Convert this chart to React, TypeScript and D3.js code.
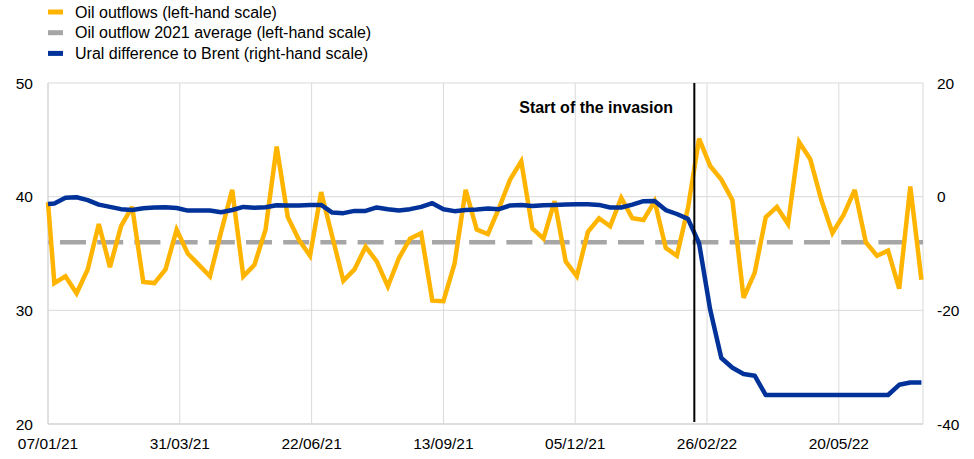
import * as d3 from "d3";

// weekly observations: one point on 07/01/21, then every Monday from 11/01/21
const FIRST_DATE = "07/01/21";
const WEEKLY_START = "11/01/21";
const WEEKS = 79;

const oilOutflows = [
  39.5,
  32.4, 33.0, 31.5, 33.6, 37.6, 33.8, 37.4, 39.1, 32.5, 32.4,
  33.6, 37.1, 35.0, 34.0, 33.0, 36.9, 40.6, 33.0, 34.0, 37.1,
  44.4, 38.2, 36.2, 34.8, 40.4, 36.5, 32.6, 33.6, 35.6, 34.3,
  32.1, 34.6, 36.3, 36.8, 30.85, 30.8, 34.1, 40.6, 37.1, 36.7,
  39.0, 41.5, 43.1, 37.2, 36.3, 39.6, 34.3, 33.0, 36.9, 38.1,
  37.4, 39.9, 38.1, 37.95, 39.6, 35.5, 34.8, 39.0, 45.1, 42.7,
  41.5, 39.7, 31.1, 33.3, 38.2, 39.1, 37.6, 44.8, 43.3, 39.7,
  36.8, 38.4, 40.6, 36.0, 34.8, 35.25, 31.9, 40.9, 32.7,
];

const uralsDiff = [
  -1.3,
  -1.2, -0.2, -0.1, -0.6, -1.4, -1.8, -2.2, -2.35, -2.05, -1.9,
  -1.85, -2.0, -2.45, -2.45, -2.45, -2.75, -2.35, -1.8, -1.95, -1.85,
  -1.5, -1.55, -1.55, -1.45, -1.45, -2.8, -2.9, -2.5, -2.5, -1.9,
  -2.2, -2.45, -2.2, -1.8, -1.15, -2.2, -2.55, -2.35, -2.25, -2.1,
  -2.2, -1.55, -1.45, -1.65, -1.5, -1.45, -1.4, -1.35, -1.35, -1.45,
  -1.9, -1.9, -1.4, -0.8, -0.75, -2.35, -3.05, -3.9, -8.2, -19.9,
  -28.4, -30.1, -31.2, -31.5, -34.9, -34.9, -34.9, -34.9, -34.9, -34.9,
  -34.9, -34.9, -34.9, -34.9, -34.9, -34.9, -33.1, -32.7, -32.7,
];

const OUTFLOW_AVG_2021 = 36.0;
const INVASION_DATE = "18/02/22";

const xTickLabels = ["07/01/21", "31/03/21", "22/06/21", "13/09/21", "05/12/21", "26/02/22", "20/05/22"];
const leftTicks = [20, 30, 40, 50];
const rightTicks = [-40, -20, 0, 20];
const X_END = "12/07/22";

const legendItems = [
  { label: "Oil outflows (left-hand scale)", color: "#FFB400" },
  { label: "Oil outflow 2021 average (left-hand scale)", color: "#A6A6A6" },
  { label: "Ural difference to Brent (right-hand scale)", color: "#003299" },
];

const W = 974;
const H = 459;
const PLOT = { left: 48, right: 923, top: 83, bottom: 424 };
const FONT = "Arial, 'Liberation Sans', sans-serif";

const parse = d3.utcParse("%d/%m/%y");

export default function App() {
  const dates: Date[] = [
    parse(FIRST_DATE)!,
    ...d3.range(WEEKS).map((i) => d3.utcWeek.offset(parse(WEEKLY_START)!, i)),
  ];

  const x = d3
    .scaleUtc()
    .domain([parse(FIRST_DATE)!, parse(X_END)!])
    .range([PLOT.left, PLOT.right]);
  const yL = d3.scaleLinear().domain([20, 50]).range([PLOT.bottom, PLOT.top]);
  const yR = d3.scaleLinear().domain([-40, 20]).range([PLOT.bottom, PLOT.top]);

  const outflowLine = d3
    .line<number>()
    .x((_, i) => x(dates[i]))
    .y((d) => yL(d));
  const uralsLine = d3
    .line<number>()
    .x((_, i) => x(dates[i]))
    .y((d) => yR(d));

  const xTicks = xTickLabels.map((s) => ({ label: s, date: parse(s)! }));
  const invX = x(parse(INVASION_DATE)!);
  const grid = "#D9D9D9";

  return (
    <svg
      width={W}
      height={H}
      style={{ position: "absolute", left: 0, top: 0, fontFamily: FONT }}
    >
      <rect width={W} height={H} fill="#fff" />

      {/* legend */}
      {legendItems.map((item, i) => (
        <g key={item.label} transform={`translate(48,${17.5 + i * 20.7})`}>
          <rect x={0} y={-8} width={15} height={5} fill={item.color} />
          <text x={27} y={0} fontSize={16} fill="#000">
            {item.label}
          </text>
        </g>
      ))}

      {/* gridlines */}
      {leftTicks.map((t) => (
        <line key={t} x1={PLOT.left} x2={PLOT.right} y1={yL(t)} y2={yL(t)} stroke={grid} strokeWidth={1} />
      ))}
      {xTicks.map((t) => (
        <line key={t.label} x1={x(t.date)} x2={x(t.date)} y1={PLOT.top} y2={PLOT.bottom} stroke={grid} strokeWidth={1} />
      ))}
      <line x1={PLOT.right} x2={PLOT.right} y1={PLOT.top} y2={PLOT.bottom} stroke={grid} strokeWidth={1} />
      <line x1={PLOT.left} x2={PLOT.left} y1={PLOT.top} y2={PLOT.bottom} stroke={grid} strokeWidth={1.2} />
      <line x1={PLOT.left} x2={PLOT.right} y1={PLOT.bottom} y2={PLOT.bottom} stroke={grid} strokeWidth={1.5} />

      {/* axis labels */}
      {leftTicks.map((t) => (
        <text key={t} x={33} y={yL(t)} dy="0.36em" textAnchor="end" fontSize={15.5}>
          {t}
        </text>
      ))}
      {rightTicks.map((t) => (
        <text key={t} x={937} y={yR(t)} dy="0.36em" textAnchor="start" fontSize={15.5}>
          {t}
        </text>
      ))}
      {xTicks.map((t) => (
        <text key={t.label} x={x(t.date)} y={449} textAnchor="middle" fontSize={15.5}>
          {t.label}
        </text>
      ))}

      {/* 2021 average */}
      <line
        x1={PLOT.left}
        x2={PLOT.right}
        y1={yL(OUTFLOW_AVG_2021)}
        y2={yL(OUTFLOW_AVG_2021)}
        stroke="#A6A6A6"
        strokeWidth={4.5}
        strokeDasharray="26 11.2"
        strokeDashoffset={25.2}
      />

      <path d={outflowLine(oilOutflows) ?? ""} fill="none" stroke="#FFB400" strokeWidth={4.5} strokeLinejoin="miter" strokeMiterlimit={3} />
      <path d={uralsLine(uralsDiff) ?? ""} fill="none" stroke="#003299" strokeWidth={4.5} strokeLinejoin="round" />

      {/* invasion marker */}
      <line x1={invX} x2={invX} y1={PLOT.top} y2={422} stroke="#000" strokeWidth={2} />
      <text x={673} y={113} textAnchor="end" fontSize={16} fontWeight="bold">
        Start of the invasion
      </text>
    </svg>
  );
}
